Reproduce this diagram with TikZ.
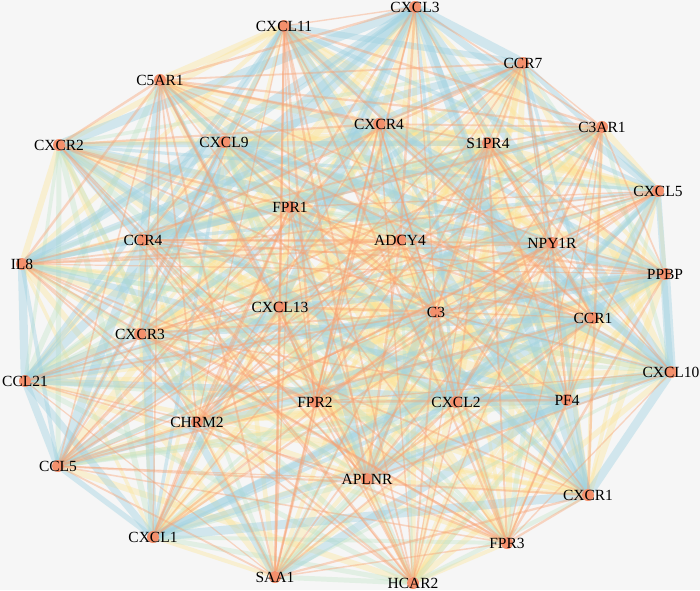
\documentclass[tikz,border=0pt]{standalone}
\usepackage{fontspec}
\setmainfont{Liberation Serif}
\pgfdeclarelayer{back}
\pgfdeclarelayer{front}
\pgfsetlayers{back,main,front}
\definecolor{bgc}{RGB}{246,246,246}
\definecolor{nodec}{RGB}{244,144,108}
\definecolor{orc}{RGB}{249,160,112}
\definecolor{blc}{RGB}{160,210,225}
\definecolor{yec}{RGB}{253,228,150}
\definecolor{grc}{RGB}{190,226,196}
\tikzset{
  gene/.style={circle, fill=nodec, draw=none, minimum size=12pt, inner sep=0pt},
  lbl/.style={font=\fontsize{15.5}{15.5}\selectfont, text=black, inner sep=0pt},
  edgeB/.style={draw=blc, draw opacity=0.42, line cap=round},
  edgeY/.style={draw=yec, draw opacity=0.38},
  edgeG/.style={draw=grc, draw opacity=0.35},
  edgeO/.style={draw=orc, draw opacity=0.4}
}
\def\genes{CXCL11/284/26/0.85, CXCL3/415/7/0.75, CCR7/523/63/0.5, C5AR1/160/80/0.2,
C3AR1/602/127/0.15, CXCR2/59/145/0.9, CXCL9/224/142/0.7, CXCR4/379/124/0.6,
S1PR4/488/143/0.15, CXCL5/658/191/0.7, FPR1/290/207/0.25, CCR4/143/240/0.7,
ADCY4/400/240/0.15, NPY1R/552/243/0.2, PPBP/665/274/0.85, IL8/22/264/0.9,
CXCL13/280/307/0.5, C3/436/312/0.2, CCR1/593/318/0.5, CXCR3/140/334/0.8,
CCL21/25/381/0.9, CXCL10/671/372/0.9, FPR2/315/402/0.25, CXCL2/456/402/0.6,
PF4/567/400/0.7, CHRM2/197/422/0.2, CCL5/58/466/0.95, APLNR/367/479/0.15,
CXCR1/588/495/0.75, CXCL1/153/537/0.85, FPR3/507/543/0.1, SAA1/275/577/0.2,
HCAR2/413/583/0.1}
\begin{document}
\begin{tikzpicture}[x=1pt,y=-1pt]
\begin{pgfonlayer}{back}
\fill[bgc] (0,0) rectangle (700,590);
\end{pgfonlayer}
\useasboundingbox (0,0) rectangle (700,590);
\begin{pgfonlayer}{front}
\foreach \n/\x/\y/\w in \genes {
  \node[gene, label={[lbl]center:\n}] (\n) at (\x,\y) {};
}
\end{pgfonlayer}
\foreach \pass in {2,3,1,4} {
\pgfmathsetseed{7}
\foreach \a/\xa/\ya/\wa [count=\i] in \genes {
  \foreach \b/\xb/\yb/\wb [count=\j] in \genes {
    \ifnum\j>\i\relax
      \pgfmathsetmacro\r{rnd}
      \pgfmathsetmacro\q{rnd}
      \pgfmathsetmacro\p{0.55*\wa*\wb}
      \pgfmathtruncatemacro\code{\r<\p ? 1 : (\r<\p+0.3 ? 2 : (\r<\p+0.42 ? 3 : 4))}
      \ifnum\code=\pass\relax
      \ifcase\code\or
        \pgfmathsetmacro\lw{3+7*\q}
        \draw[edgeB, line width=\lw pt] (\a) -- (\b);
      \or
        \pgfmathsetmacro\lw{3+4*\q}
        \draw[edgeY, line width=\lw pt] (\a) -- (\b);
      \or
        \pgfmathsetmacro\lw{3+3*\q}
        \draw[edgeG, line width=\lw pt] (\a) -- (\b);
      \or
        \pgfmathsetmacro\lw{1.2+1.3*\q}
        \draw[edgeO, line width=\lw pt] (\a) -- (\b);
      \fi
      \fi
    \fi
  }
}
}
\end{tikzpicture}
\end{document}
